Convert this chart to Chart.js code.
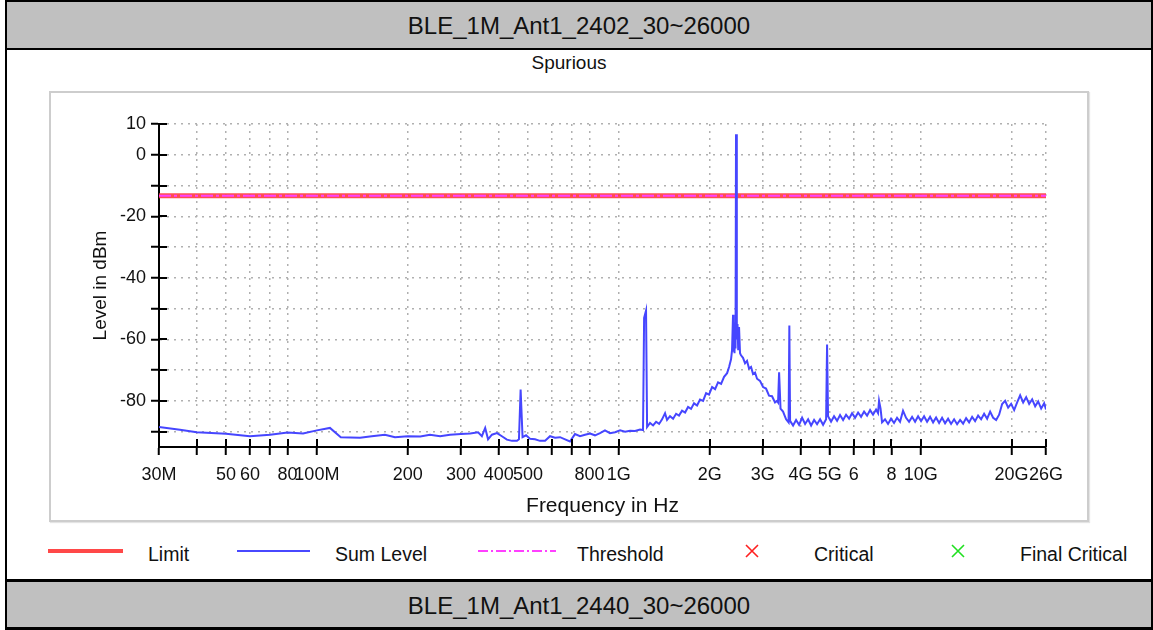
<!DOCTYPE html>
<html>
<head>
<meta charset="utf-8">
<script src="https://cdn.jsdelivr.net/npm/chart.js@4.4.1/dist/chart.umd.min.js"></script>
<style>
  body { margin:0; width:1153px; height:630px; position:relative; overflow:hidden; background:#fff;
         font-family:"Liberation Sans", Arial, sans-serif; color:#111; }
  .bar { position:absolute; left:5px; width:1144px; background:#c0c0c0; border:2px solid #000;
         text-align:center; font-size:24px; }
  #hdr  { top:0; height:46px; line-height:48px; }
  #ftr  { top:579px; height:45px; line-height:48px; border-width:3px 2px 3px 2px; }
  #side { position:absolute; left:5px; top:50px; width:1144px; height:529px;
          border-left:2px solid #000; border-right:2px solid #000; }
  #panel { position:absolute; left:49px; top:91px; width:1036px; height:427px;
           border:2px solid #cdcdcd; box-shadow:1px 1px 1px #e4e4e4; }
  #panel canvas { position:absolute; left:0; top:0; }
  #spur { position:absolute; left:49px; width:1040px; top:52px; text-align:center; font-size:19px; }
  .lg { position:absolute; top:543px; font-size:19.5px; line-height:22px; }
  .sw { position:absolute; }
</style>
</head>
<body>
<div id="hdr" class="bar">BLE_1M_Ant1_2402_30~26000</div>
<div id="side"></div>
<div id="spur">Spurious</div>
<div id="panel"><canvas id="spurious-chart" width="1036" height="427"></canvas></div>

<!-- legend -->
<div class="sw" style="left:48px;top:549px;width:75px;height:4px;background:#ff4848;"></div>
<div class="lg" style="left:148px;">Limit</div>
<div class="sw" style="left:237px;top:550px;width:73px;height:2px;background:#4848ff;"></div>
<div class="lg" style="left:335px;">Sum Level</div>
<svg class="sw" style="left:478px;top:546px;" width="78" height="10">
  <line x1="0" y1="5" x2="78" y2="5" stroke="#ff40ff" stroke-width="2" stroke-dasharray="10 3 2 3"/>
</svg>
<div class="lg" style="left:577px;">Threshold</div>
<svg class="sw" style="left:745px;top:544px;" width="14" height="14">
  <path d="M1 1 L13 13 M13 1 L1 13" stroke="#ff2020" stroke-width="1.6"/>
</svg>
<div class="lg" style="left:814px;">Critical</div>
<svg class="sw" style="left:951px;top:544px;" width="14" height="14">
  <path d="M1 1 L13 13 M13 1 L1 13" stroke="#20e020" stroke-width="1.6"/>
</svg>
<div class="lg" style="left:1020px;">Final Critical</div>

<div id="ftr" class="bar">BLE_1M_Ant1_2440_30~26000</div>

<script>
// ── Data ──────────────────────────────────────────────────────────────
const freqMHz = [
  30, 35.2, 40, 50, 60, 70, 80, 90, 100, 110.5,
  120, 139, 152, 168, 181.5, 200, 220, 237, 256, 276,
  300, 322, 342, 352, 361, 369, 380, 395, 410, 426,
  443, 460, 467, 473, 480, 493, 508, 528, 548, 570,
  592, 615, 639, 664, 689, 716, 744, 773, 803, 834,
  867, 900, 935, 972, 1010, 1049, 1090, 1132, 1176, 1203,
  1213, 1231, 1241,
  1269, 1299, 1329, 1360, 1391, 1423, 1445, 1478, 1513, 1548,
  1583, 1620, 1658, 1696, 1735, 1775, 1817, 1858, 1902, 1946,
  1990, 2037, 2084, 2132, 2182, 2232, 2284, 2319, 2354, 2372,
  2390, 2399, 2408, 2417, 2427, 2436, 2445, 2460, 2473, 2486,
  2502, 2521, 2540, 2579, 2619, 2659, 2700, 2742, 2784, 2827,
  2870, 2936, 3005, 3074, 3145, 3218, 3292, 3343, 3369, 3396,
  3433, 3500, 3582, 3651, 3672, 3693,
  3778, 3865, 3955, 4047, 4141, 4237, 4335, 4435, 4537, 4642,
  4750, 4860, 4896, 4933, 5047, 5164, 5284, 5406, 5532, 5659,
  5791, 5925, 6063, 6203, 6346, 6493, 6643, 6797, 6952, 7114,
  7223, 7278, 7362, 7447, 7618, 7794, 7975, 8159, 8349, 8541,
  8739, 8943, 9150, 9363, 9580, 9802, 10027, 10260, 10497, 10741,
  10990, 11244, 11506, 11770, 12042, 12322, 12607, 12900, 13199, 13504,
  13817, 14137, 14465, 14800, 15142, 15493, 15852, 16219, 16595, 16980,
  17373, 17775, 18187, 18608, 19039, 19480, 19931, 20393, 20865, 21349,
  21843, 22349, 22867, 23397, 23938, 24493, 25060, 25640, 26000
];
const sumLevel = [
  -88.5, -89.4, -90.2, -90.7, -91.5, -91.0, -90.3, -90.6, -89.6, -88.8,
  -91.8, -92.0, -91.5, -91.0, -91.8, -91.5, -91.6, -91.0, -91.5, -91.0,
  -90.8, -90.6, -90.2, -91.5, -88.8, -92.5, -91.0, -90.5, -91.5, -92.6,
  -93.0, -93.0, -92.5, -76.3, -91.8, -91.2, -92.3, -92.5, -93.0, -93.0,
  -91.5, -92.0, -91.8, -92.5, -93.2, -90.8, -91.5, -91.0, -90.6, -91.2,
  -90.5, -89.6, -90.5, -90.2, -89.6, -90.0, -89.7, -89.8, -89.3, -89.5,
  -53.0, -50.6, -88.5,
  -87.2, -88.0, -86.8, -87.5, -86.0, -84.0, -86.2, -85.0, -85.8, -84.2,
  -84.8, -83.2, -83.8, -82.0, -82.6, -80.8, -81.5, -79.6, -80.0, -77.5,
  -78.0, -75.5, -76.2, -74.0, -74.5, -72.2, -71.0, -69.0, -66.5, -63.5,
  -52.0, -64.0, -56.0, -64.5, -54.5, -63.0, 6.7, -60.0, -55.0, -63.5,
  -56.0, -64.5, -65.2, -66.0, -67.8, -67.0, -69.5, -69.0, -71.3, -70.8,
  -72.8, -73.5, -75.5, -76.0, -78.3, -78.5, -80.5, -80.0, -80.5, -70.7,
  -82.5, -83.5, -86.0, -87.0, -55.5, -86.5,
  -88.0, -86.2, -87.8, -85.5, -87.5, -86.0, -88.0, -86.2, -87.6, -86.0,
  -87.8, -86.0, -61.7, -85.0, -86.8, -85.0, -86.5, -84.6, -86.2, -84.5,
  -85.8, -84.0, -85.5, -83.8, -85.2, -83.5, -84.8, -83.0, -84.5, -82.8,
  -84.0, -80.0, -82.5, -87.0, -86.0, -87.5, -85.8, -87.2, -85.5, -86.8,
  -83.2, -85.5, -86.8, -85.2, -86.8, -85.0, -86.6, -85.0, -86.8, -85.2,
  -87.0, -85.4, -87.2, -85.5, -87.3, -85.8, -87.5, -86.0, -87.6, -86.2,
  -87.4, -85.6, -87.0, -85.2, -86.6, -84.8, -86.0, -84.2, -85.8, -83.5,
  -85.5, -86.2, -84.5, -81.0, -80.0, -82.2, -81.0, -83.0, -80.5, -78.2,
  -80.5, -78.8, -81.0, -79.5, -81.8, -80.2, -82.5, -80.8, -82.8
];
const limitFreq  = [30, 26000];
const limitLevel = [-13.3, -13.3];
const threshLevel = [-13.3, -13.3];

const xTickVals   = [30, 40, 50, 60, 70, 80, 100, 200, 300, 400, 500, 600, 700, 800,
                     1000, 2000, 3000, 4000, 5000, 6000, 7000, 8000, 10000, 20000, 26000];
const xTickLabels = ['30M', '', '50', '60', '', '80', '100M', '200', '300', '400', '500', '', '', '800',
                     '1G', '2G', '3G', '4G', '5G', '6', '', '8', '10G', '20G', '26G'];
const yTickVals   = [10, 0, -10, -20, -30, -40, -50, -60, -70, -80, -90];
const yTickLabels = ['10', '0', '', '-20', '', '-40', '', '-60', '', '-80', ''];

// ── Helpers ───────────────────────────────────────────────────────────
const pts = (xs, ys) => xs.map((x, i) => ({ x, y: ys[i] }));

// tick marks crossing the axis (inner half; Chart.js draws the outer half)
const innerTicks = {
  id: 'innerTicks',
  afterDraw(chart) {
    const { ctx, chartArea: a, scales: { x, y } } = chart;
    ctx.save();
    ctx.strokeStyle = '#000';
    ctx.lineWidth = 2;
    ctx.beginPath();
    yTickVals.forEach(v => {
      const py = Math.round(y.getPixelForValue(v));
      ctx.moveTo(a.left, py); ctx.lineTo(a.left + 8, py);
    });
    xTickVals.forEach(v => {
      const px = Math.round(x.getPixelForValue(v));
      ctx.moveTo(px, a.bottom); ctx.lineTo(px, a.bottom - 8);
    });
    ctx.stroke();
    ctx.restore();
  }
};

const tickFont   = { family: '"Liberation Sans", Arial, sans-serif', size: 18 };
const xTitleFont = { family: '"Liberation Sans", Arial, sans-serif', size: 21 };
const yTitleFont = { family: '"Liberation Sans", Arial, sans-serif', size: 19 };

// ── Chart ─────────────────────────────────────────────────────────────
new Chart(document.getElementById('spurious-chart'), {
  type: 'line',
  data: {
    datasets: [
      { label: 'Sum Level', data: pts(freqMHz, sumLevel), borderColor: '#4646ff',
        borderWidth: 2, order: 0 },
      { label: 'Threshold', data: pts(limitFreq, threshLevel), borderColor: '#ff40ff',
        borderWidth: 2, borderDash: [12, 3, 3, 3], order: 1 },
      { label: 'Limit', data: pts(limitFreq, limitLevel), borderColor: 'rgba(255,60,60,0.9)',
        borderWidth: 5, order: 2 }
    ]
  },
  options: {
    responsive: false,
    animation: false,
    events: [],
    elements: { point: { radius: 0 }, line: { tension: 0, borderJoinStyle: 'miter' } },
    layout: { padding: { left: 0, top: 31, right: 41, bottom: 0 } },
    plugins: { legend: { display: false }, title: { display: false }, tooltip: { enabled: false } },
    scales: {
      x: {
        type: 'logarithmic',
        min: 30, max: 26000,
        afterBuildTicks: s => { s.ticks = xTickVals.map(v => ({ value: v })); },
        afterFit: s => { s.height = 73; },
        ticks: {
          autoSkip: false, maxRotation: 0, minRotation: 0, padding: 9,
          color: '#111', font: tickFont,
          callback: (v, i) => xTickLabels[i]
        },
        grid: { color: '#b0b0b0', lineWidth: 1.5, tickLength: 8, tickColor: '#000', tickWidth: 2 },
        border: { display: true, color: '#000', width: 2, dash: [2, 5] },
        title: { display: true, text: 'Frequency in Hz', color: '#111', font: xTitleFont,
                 padding: { top: 0, bottom: 1 } }
      },
      y: {
        type: 'linear',
        min: -95, max: 10,
        afterBuildTicks: s => { s.ticks = yTickVals.map(v => ({ value: v })); },
        afterFit: s => { s.width = 108; },
        ticks: {
          padding: 5, color: '#111', font: tickFont,
          callback: (v, i) => yTickLabels[i]
        },
        grid: { color: '#b0b0b0', lineWidth: 1.5, tickLength: 8, tickColor: '#000', tickWidth: 2 },
        border: { display: true, color: '#000', width: 2, dash: [2, 5] },
        title: { display: true, text: 'Level in dBm', color: '#111', font: yTitleFont,
                 padding: { top: 38, bottom: 0 } }
      }
    }
  },
  plugins: [innerTicks]
});
</script>
</body>
</html>
